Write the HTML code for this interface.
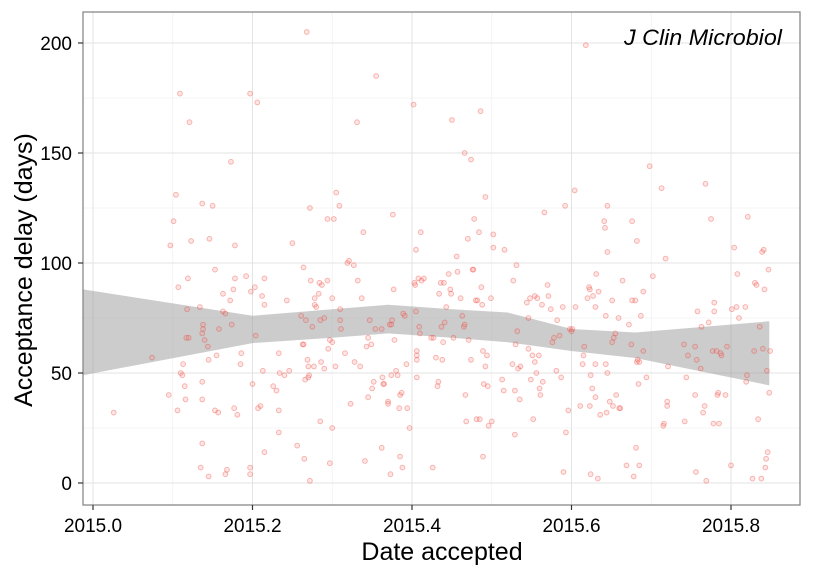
<!DOCTYPE html>
<html><head><meta charset="utf-8"><style>
body{margin:0;background:#fff;}
svg{display:block;font-family:"Liberation Sans",sans-serif;}
</style></head><body>
<svg id="chart" width="825" height="570">
<rect x="0" y="0" width="825" height="570" fill="#fff"/>
<g id="grid"></g>
<g id="band"></g>
<g id="pts"></g>
<rect x="83" y="12" width="717" height="493" fill="none" stroke="#888" stroke-width="1.3"/>
<g id="axes"></g>
<text x="624" y="45" textLength="158" lengthAdjust="spacingAndGlyphs" font-size="22" font-style="italic" fill="#000">J Clin Microbiol</text>
<text x="442" y="560" text-anchor="middle" font-size="25" fill="#000">Date accepted</text>
<text transform="translate(32,270) rotate(-90)" text-anchor="middle" font-size="25" fill="#000">Acceptance delay (days)</text>
</svg>
<script>
const xTicks=[2015.0,2015.2,2015.4,2015.6,2015.8];
const xTickLabels=["2015.0","2015.2","2015.4","2015.6","2015.8"];
const yTicks=[0,50,100,150,200];
const yTickLabels=["0","50","100","150","200"];
const bandX=[2014.9875,2015.2,2015.3,2015.37,2015.45,2015.52,2015.6,2015.68,2015.848];
const bandUpper=[88,76,79,81,79,77.5,70,68.4,73.5];
const bandLower=[49,63.6,66,68,66,64,60,56.8,44.4];
const ptDate=[2015.026,2015.074,2015.095,2015.097,2015.101,2015.104,2015.106,2015.107,2015.109,2015.11,2015.112,2015.113,2015.115,2015.116,2015.117,2015.118,2015.119,2015.12,2015.121,2015.123,2015.134,2015.135,2015.137,2015.137,2015.137,2015.137,2015.137,2015.138,2015.138,2015.14,2015.144,2015.145,2015.145,2015.146,2015.15,2015.153,2015.153,2015.155,2015.157,2015.158,2015.163,2015.163,2015.166,2015.166,2015.168,2015.172,2015.173,2015.174,2015.176,2015.177,2015.178,2015.178,2015.181,2015.185,2015.186,2015.192,2015.197,2015.197,2015.197,2015.198,2015.2,2015.203,2015.204,2015.206,2015.207,2015.21,2015.212,2015.213,2015.215,2015.215,2015.215,2015.226,2015.23,2015.233,2015.233,2015.233,2015.234,2015.24,2015.243,2015.246,2015.25,2015.256,2015.261,2015.263,2015.264,2015.264,2015.265,2015.266,2015.267,2015.269,2015.27,2015.27,2015.271,2015.272,2015.272,2015.273,2015.275,2015.277,2015.278,2015.278,2015.28,2015.283,2015.284,2015.285,2015.285,2015.286,2015.287,2015.29,2015.29,2015.294,2015.294,2015.295,2015.297,2015.297,2015.3,2015.3,2015.3,2015.302,2015.304,2015.305,2015.309,2015.31,2015.31,2015.311,2015.316,2015.319,2015.321,2015.323,2015.327,2015.328,2015.331,2015.332,2015.335,2015.337,2015.339,2015.341,2015.343,2015.345,2015.345,2015.347,2015.349,2015.35,2015.352,2015.354,2015.355,2015.362,2015.362,2015.363,2015.364,2015.365,2015.37,2015.37,2015.372,2015.373,2015.374,2015.374,2015.375,2015.376,2015.377,2015.378,2015.38,2015.382,2015.384,2015.385,2015.385,2015.387,2015.388,2015.389,2015.391,2015.393,2015.394,2015.397,2015.402,2015.403,2015.404,2015.405,2015.405,2015.406,2015.406,2015.406,2015.406,2015.408,2015.409,2015.41,2015.411,2015.412,2015.415,2015.424,2015.426,2015.427,2015.43,2015.432,2015.433,2015.434,2015.436,2015.437,2015.438,2015.439,2015.44,2015.441,2015.443,2015.446,2015.448,2015.449,2015.45,2015.452,2015.456,2015.457,2015.461,2015.463,2015.465,2015.466,2015.466,2015.467,2015.468,2015.47,2015.471,2015.474,2015.474,2015.476,2015.477,2015.478,2015.48,2015.481,2015.482,2015.484,2015.485,2015.486,2015.487,2015.488,2015.489,2015.489,2015.49,2015.492,2015.492,2015.494,2015.495,2015.496,2015.499,2015.5,2015.502,2015.502,2015.513,2015.515,2015.516,2015.526,2015.527,2015.529,2015.529,2015.53,2015.531,2015.532,2015.533,2015.535,2015.536,2015.544,2015.546,2015.546,2015.548,2015.549,2015.551,2015.552,2015.554,2015.554,2015.556,2015.557,2015.559,2015.56,2015.561,2015.563,2015.564,2015.566,2015.57,2015.571,2015.574,2015.576,2015.578,2015.581,2015.582,2015.585,2015.587,2015.589,2015.59,2015.592,2015.593,2015.596,2015.598,2015.6,2015.601,2015.604,2015.605,2015.611,2015.614,2015.615,2015.616,2015.62,2015.622,2015.623,2015.623,2015.624,2015.624,2015.626,2015.627,2015.63,2015.63,2015.63,2015.631,2015.618,2015.633,2015.634,2015.636,2015.641,2015.642,2015.643,2015.643,2015.644,2015.645,2015.645,2015.645,2015.648,2015.651,2015.651,2015.652,2015.653,2015.655,2015.656,2015.659,2015.66,2015.661,2015.664,2015.669,2015.672,2015.675,2015.676,2015.676,2015.678,2015.68,2015.681,2015.682,2015.682,2015.683,2015.684,2015.685,2015.685,2015.687,2015.69,2015.69,2015.694,2015.698,2015.702,2015.713,2015.715,2015.716,2015.718,2015.72,2015.721,2015.72,2015.741,2015.742,2015.744,2015.746,2015.755,2015.755,2015.756,2015.757,2015.758,2015.762,2015.763,2015.765,2015.767,2015.768,2015.769,2015.772,2015.775,2015.777,2015.778,2015.779,2015.779,2015.782,2015.783,2015.784,2015.785,2015.787,2015.788,2015.793,2015.795,2015.8,2015.801,2015.804,2015.807,2015.808,2015.81,2015.818,2015.819,2015.82,2015.821,2015.827,2015.829,2015.83,2015.832,2015.834,2015.836,2015.838,2015.839,2015.84,2015.841,2015.842,2015.843,2015.844,2015.845,2015.846,2015.847,2015.848,2015.849,2015.268];
const ptDays=[32,57,40,108,119,131,33,89,177,50,49,54,44,38,66,79,93,66,164,110,80,7,127,46,38,18,68,70,72,65,62,3,56,111,126,97,33,58,32,70,86,78,77,4,6,83,146,72,88,34,108,93,31,54,59,94,177,7,4,87,45,89,67,173,34,35,85,51,14,81,93,44,42,59,33,23,50,49,83,51,109,17,76,63,63,98,11,47,74,56,53,48,49,125,1,92,71,53,84,81,80,86,91,28,74,55,90,75,52,120,92,61,9,65,64,25,84,120,53,132,126,79,74,70,59,100,101,36,99,55,164,92,53,84,114,10,62,66,39,74,63,43,46,70,185,70,16,48,45,45,37,36,72,4,49,72,74,122,88,65,51,49,34,12,40,41,7,77,76,54,34,25,172,91,90,106,78,60,58,48,56,93,71,68,114,92,93,66,7,66,57,44,46,86,91,71,56,64,91,73,80,95,88,86,165,66,103,96,84,76,71,150,72,40,28,111,65,56,147,97,97,120,83,29,83,114,29,169,89,81,60,12,45,130,53,58,44,26,84,28,107,113,47,42,106,54,92,22,42,63,99,69,52,38,53,82,61,75,84,47,58,29,85,55,50,84,58,43,40,81,46,123,90,85,79,64,66,51,74,67,48,80,5,126,23,33,70,69,70,133,80,35,54,58,62,84,89,88,35,4,49,43,85,54,80,39,95,199,2,87,31,119,116,76,54,32,105,126,50,37,64,83,35,66,68,40,75,34,34,92,8,72,63,119,83,3,83,16,110,55,56,45,8,55,76,87,60,48,144,94,134,26,27,102,35,53,37,63,28,48,58,62,40,5,56,78,52,71,32,35,136,1,73,120,60,27,82,78,60,40,41,27,59,58,40,62,8,79,107,80,95,75,80,46,49,121,2,60,91,90,29,71,2,105,61,106,88,7,11,51,14,97,41,60,205];
const X0=93,XS=797.5,Y0=483,YS=2.2;
const xs=d=>X0+(d-2015)*XS, ys=v=>Y0-v*YS;
const NS='http://www.w3.org/2000/svg';
function mk(t,a,p){const e=document.createElementNS(NS,t);for(const k in a)e.setAttribute(k,a[k]);p.appendChild(e);return e;}
const grid=document.getElementById('grid'),axes=document.getElementById('axes'),band=document.getElementById('band'),pts=document.getElementById('pts');
mk('rect',{x:83,y:12,width:717,height:493,fill:'#fff'},grid);
for(let v=25;v<=200;v+=50){const l=mk('line',{x1:83,x2:800,y1:ys(v),y2:ys(v),stroke:'#f2f2f2','stroke-width':0.8},grid);

}
for(let d=2015.1;d<2015.9;d+=0.2){const l=mk('line',{x1:xs(d),x2:xs(d),y1:12,y2:505,stroke:'#f2f2f2','stroke-width':0.8},grid);

}
yTicks.forEach((v,i)=>{const l=mk('line',{x1:83,x2:800,y1:ys(v),y2:ys(v),stroke:'#e3e3e3','stroke-width':1},grid);


const t=mk('line',{x1:78,x2:83,y1:ys(v),y2:ys(v),stroke:'#333','stroke-width':1.2},axes);


const tx=mk('text',{x:72,y:ys(v)+7,'text-anchor':'end','font-size':19,fill:'#000'},axes);tx.textContent=yTickLabels[i];

});
xTicks.forEach((d,i)=>{const l=mk('line',{x1:xs(d),x2:xs(d),y1:12,y2:505,stroke:'#e3e3e3','stroke-width':1},grid);


const t=mk('line',{x1:xs(d),x2:xs(d),y1:505,y2:510,stroke:'#333','stroke-width':1.2},axes);


const tx=mk('text',{x:xs(d),y:532,'text-anchor':'middle','font-size':19,fill:'#000'},axes);tx.textContent=xTickLabels[i];

});
let p='';bandX.forEach((d,i)=>{p+=(i?'L':'M')+xs(d)+','+ys(bandUpper[i]);});
for(let i=bandX.length-1;i>=0;i--)p+='L'+xs(bandX[i])+','+ys(bandLower[i]);
const b=mk('path',{d:p+'Z',fill:'#999','fill-opacity':0.5},band);


ptDate.forEach((d,i)=>{const c=mk('circle',{cx:xs(d),cy:ys(ptDays[i]),r:2.4,fill:'rgba(248,118,109,0.18)',stroke:'rgba(235,60,50,0.35)','stroke-width':1},pts);

});
</script>
</body></html>
